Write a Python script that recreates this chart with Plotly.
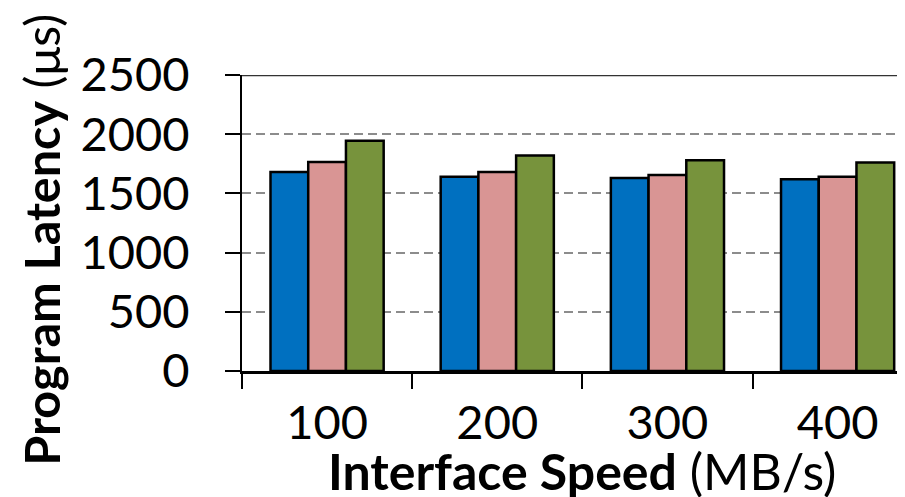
import plotly.graph_objects as go

categories = ["100", "200", "300", "400"]
series_a = [1680, 1640, 1630, 1620]
series_b = [1765, 1680, 1655, 1640]
series_c = [1945, 1820, 1780, 1760]
colors = ["#0070C0", "#D99594", "#77933C"]
y_ticks = [0, 500, 1000, 1500, 2000, 2500]

# the page body adds an 8px offset; layout below is in figure coordinates
W, H = 905, 497
L, R, T, B = 233.5, 0, 67, 134
pw = W - L - R
ph = H - T - B
CAT_W = 170.3

FONT = "Lato"
TICK_SIZE = 47
TITLE_SIZE = 50

fig = go.Figure()
for vals, col in zip([series_a, series_b, series_c], colors):
    fig.add_trace(go.Bar(
        x=categories, y=vals,
        marker=dict(color=col, line=dict(color="black", width=2.5)),
        showlegend=False,
    ))

fig.update_layout(
    width=W, height=H,
    margin=dict(l=L, r=R, t=T, b=B, pad=0, autoexpand=False),
    paper_bgcolor="white", plot_bgcolor="white",
    barmode="group", bargap=0.335, bargroupgap=0,
    font=dict(family=FONT, size=TICK_SIZE, color="black"),
)

fig.update_xaxes(
    type="category", automargin=False,
    range=[-0.5, -0.5 + pw / CAT_W],
    showline=True, linecolor="black", linewidth=3,
    ticks="outside", tickson="boundaries", ticklen=15, tickwidth=2, tickcolor="black",
    tickfont=dict(family=FONT, size=TICK_SIZE, color="black"),
    ticklabelstandoff=9,
    showgrid=False, zeroline=False,
)

fig.update_yaxes(
    range=[0, 2500], automargin=False,
    tickvals=y_ticks,
    showline=True, linecolor="black", linewidth=2,
    ticks="outside", ticklen=15, tickwidth=2, tickcolor="black",
    tickfont=dict(family=FONT, size=TICK_SIZE, color="black"),
    ticklabelstandoff=26,
    showgrid=True, gridcolor="#8c8c8c", gridwidth=2.2, griddash="9px,5px",
    zeroline=False,
)

fig.add_shape(type="line", xref="paper", yref="y", x0=0, x1=1, y0=2500, y1=2500,
              line=dict(color="#333333", width=2.5), layer="above")

fig.add_annotation(
    text="<b>Program Latency</b> (μs)", textangle=-90,
    xref="paper", yref="paper",
    x=(32 - L) / pw, y=(H - B - 232) / ph,
    xanchor="center", yanchor="middle", showarrow=False,
    font=dict(family=FONT, size=48.5, color="black"),
)
fig.add_annotation(
    text="<b>Interface Speed</b> (MB/s)",
    xref="paper", yref="paper",
    x=(573.5 - L) / pw, y=(H - B - 463) / ph,
    xanchor="center", yanchor="middle", showarrow=False,
    font=dict(family=FONT, size=TITLE_SIZE, color="black"),
)

fig.write_html("out.html")
